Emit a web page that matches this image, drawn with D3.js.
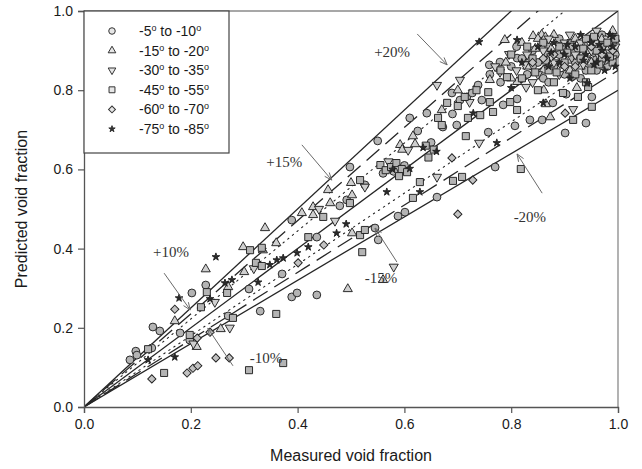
<!DOCTYPE html>
<html><head><meta charset="utf-8">
<script src="https://cdn.jsdelivr.net/npm/d3@7"></script>
<style>body{margin:0;background:#fff}</style>
</head><body>
<svg id="c" width="642" height="469"></svg>
<script>
// ---------- data ----------
const legendLabels = ["-5", "-10", "-15", "-20", "-30", "-35", "-45", "-55", "-60", "-70", "-75", "-85"];
const xTicks = [0, 0.2, 0.4, 0.6, 0.8, 1.0];
const yTicks = [0, 0.2, 0.4, 0.6, 0.8, 1.0];
const xTitle = "Measured void fraction";
const yTitle = "Predicted void fraction";
const bandPercents = [20, 15, 10];
const annotLabels = ["+20%", "+15%", "+10%", "-10%", "-15%", "-20%"];

const sCircle = [[0.086,0.119],[0.097,0.141],[0.099,0.131],[0.127,0.149],[0.129,0.202],[0.142,0.192],[0.180,0.187],[0.198,0.169],[0.202,0.288],[0.228,0.308],[0.270,0.230],[0.309,0.298],[0.330,0.242],[0.371,0.336],[0.389,0.278],[0.436,0.283],[0.399,0.288],[0.389,0.472],[0.436,0.429],[0.479,0.508],[0.492,0.523],[0.498,0.606],[0.526,0.561],[0.545,0.452],[0.551,0.422],[0.550,0.672],[0.560,0.590],[0.580,0.595],[0.588,0.482],[0.601,0.492],[0.600,0.610],[0.610,0.730],[0.625,0.697],[0.642,0.742],[0.650,0.668],[0.661,0.530],[0.672,0.707],[0.689,0.793],[0.698,0.712],[0.704,0.775],[0.717,0.783],[0.727,0.793],[0.738,0.813],[0.757,0.694],[0.759,0.864],[0.770,0.606],[0.779,0.871],[0.785,0.763],[0.807,0.710],[0.811,0.778],[0.811,0.881],[0.835,0.725],[0.858,0.725],[0.878,0.768],[0.901,0.692],[0.903,0.790],[0.940,0.717],[0.951,0.783],
 [0.80,0.86],[0.82,0.88],[0.83,0.84],[0.84,0.90],[0.85,0.87],[0.86,0.83],[0.87,0.91],[0.88,0.86],[0.89,0.89],[0.90,0.84],[0.91,0.92],[0.92,0.87],[0.93,0.90],[0.94,0.85],[0.95,0.93],[0.96,0.88],[0.97,0.91],[0.98,0.86],[0.99,0.92],[0.995,0.89],[0.76,0.84],[0.78,0.82],[0.87,0.82],[0.93,0.83],[0.97,0.94],[0.89,0.93],[0.84,0.86],[0.91,0.88],[0.96,0.85],[0.81,0.91],
 [0.865,0.895],[0.895,0.865],[0.925,0.905],[0.955,0.895],[0.985,0.905],[0.915,0.835],[0.945,0.875],[0.975,0.875],[0.835,0.875],[0.905,0.905],[0.690,0.740],[0.745,0.775]];

const sTriUp = [[0.170,0.217],[0.211,0.152],[0.228,0.348],[0.256,0.197],[0.270,0.303],[0.298,0.404],[0.300,0.341],[0.335,0.396],[0.339,0.452],[0.360,0.414],[0.408,0.490],[0.429,0.505],[0.429,0.485],[0.457,0.548],[0.461,0.515],[0.500,0.566],[0.502,0.535],[0.502,0.439],[0.494,0.298],[0.560,0.321],[0.592,0.662],[0.616,0.684],[0.620,0.664],[0.596,0.650],[0.670,0.750],[0.760,0.826],[0.788,0.927],[0.811,0.821],[0.841,0.937],[0.857,0.940],[0.864,0.934],[0.861,0.800],[0.873,0.732],[0.923,0.806],[0.865,0.765],
 [0.79,0.87],[0.82,0.92],[0.85,0.93],[0.87,0.88],[0.88,0.94],[0.90,0.90],[0.92,0.93],[0.94,0.91],[0.95,0.87],[0.97,0.93],[0.98,0.90],[0.99,0.95],[0.83,0.86],[0.86,0.85],[0.93,0.86],[0.96,0.92],[0.80,0.83],[0.91,0.85],
 [0.875,0.905],[0.935,0.895],[0.965,0.905],[0.995,0.93],[0.905,0.875],[0.845,0.905],[0.700,0.800]];

const sTriDown = [[0.205,0.160],[0.273,0.200],[0.245,0.265],[0.318,0.350],[0.440,0.500],[0.470,0.470],[0.526,0.556],[0.580,0.354],[0.570,0.620],[0.607,0.649],[0.661,0.581],[0.661,0.813],[0.704,0.826],[0.722,0.770],[0.740,0.667],[0.779,0.846],[0.796,0.891],[0.828,0.808],[0.916,0.752],
 [0.81,0.85],[0.83,0.89],[0.85,0.84],[0.86,0.90],[0.88,0.87],[0.89,0.84],[0.90,0.92],[0.92,0.89],[0.93,0.92],[0.94,0.88],[0.95,0.90],[0.97,0.87],[0.98,0.93],[0.99,0.88],[0.995,0.91],[0.77,0.86],[0.84,0.82],[0.91,0.94],[0.96,0.95],[0.87,0.93],
 [0.875,0.885],[0.935,0.865],[0.965,0.885],[0.985,0.895],[0.895,0.905],[0.825,0.865]];

const sSquare = [[0.120,0.146],[0.150,0.086],[0.198,0.182],[0.219,0.252],[0.230,0.290],[0.268,0.288],[0.279,0.225],[0.309,0.093],[0.311,0.396],[0.322,0.364],[0.333,0.356],[0.333,0.402],[0.360,0.235],[0.373,0.111],[0.420,0.429],[0.448,0.480],[0.498,0.515],[0.517,0.573],[0.517,0.434],[0.521,0.391],[0.526,0.447],[0.555,0.611],[0.565,0.598],[0.575,0.606],[0.585,0.616],[0.595,0.601],[0.605,0.593],[0.590,0.583],[0.616,0.528],[0.629,0.568],[0.640,0.660],[0.655,0.650],[0.645,0.630],[0.663,0.730],[0.670,0.712],[0.680,0.768],[0.691,0.571],[0.708,0.581],[0.715,0.684],[0.713,0.783],[0.719,0.730],[0.742,0.737],[0.757,0.795],[0.760,0.770],[0.766,0.745],[0.792,0.833],[0.798,0.770],[0.811,0.750],[0.818,0.601],[0.897,0.793],[0.916,0.725],[0.925,0.783],[0.944,0.808],[0.951,0.758],
 [0.78,0.85],[0.80,0.89],[0.82,0.83],[0.84,0.88],[0.86,0.92],[0.87,0.85],[0.89,0.91],[0.90,0.87],[0.92,0.84],[0.93,0.88],[0.94,0.93],[0.95,0.85],[0.96,0.90],[0.97,0.88],[0.98,0.92],[0.99,0.87],[0.995,0.93],[0.85,0.80],[0.88,0.82],[0.94,0.82],[0.91,0.91],[0.83,0.91],
 [0.865,0.875],[0.905,0.895],[0.935,0.905],[0.965,0.865],[0.985,0.885],[0.955,0.935],[0.885,0.845],[0.845,0.845],[0.700,0.760],[0.735,0.800]];

const sDiamond = [[0.127,0.071],[0.170,0.247],[0.193,0.086],[0.204,0.098],[0.213,0.104],[0.212,0.174],[0.236,0.189],[0.247,0.124],[0.272,0.124],[0.401,0.364],[0.449,0.409],[0.689,0.629],[0.700,0.487],[0.728,0.573],[0.901,0.742],
 [0.84,0.87],[0.88,0.89],[0.92,0.86],[0.95,0.91],[0.97,0.89],[0.90,0.86],[0.86,0.88],[0.99,0.90]];

const sStar = [[0.120,0.119],[0.170,0.126],[0.178,0.275],[0.236,0.273],[0.247,0.379],[0.264,0.313],[0.277,0.321],[0.326,0.315],[0.348,0.359],[0.361,0.371],[0.373,0.376],[0.399,0.389],[0.420,0.404],[0.473,0.439],[0.491,0.462],[0.567,0.543],[0.578,0.600],[0.610,0.602],[0.629,0.543],[0.635,0.655],[0.660,0.645],[0.729,0.742],[0.740,0.922],[0.773,0.667],[0.800,0.806],[0.811,0.927],[0.860,0.768],[0.942,0.818],
 [0.85,0.91],[0.88,0.92],[0.90,0.89],[0.92,0.91],[0.94,0.89],[0.95,0.92],[0.96,0.87],[0.97,0.90],[0.98,0.88],[0.985,0.94],[0.99,0.91],[0.995,0.86],[0.93,0.94],[0.87,0.86],[0.91,0.83],[0.975,0.85],[0.89,0.87],[0.82,0.87],
 [0.905,0.915],[0.935,0.875],[0.965,0.915],[0.99,0.935],[0.955,0.865],[0.875,0.895]];

// ---------- layout ----------
const svg = d3.select("#c");
const W = 642, H = 469;
const x = d3.scaleLinear().domain([0, 1]).range([84, 618]);
const y = d3.scaleLinear().domain([0, 1]).range([407, 11]);
const sans = "'Liberation Sans', Arial, sans-serif";
const serif = "'Liberation Serif', 'Times New Roman', serif";

svg.append("rect").attr("width", W).attr("height", H).attr("fill", "#fff");

svg.append("defs").append("clipPath").attr("id", "clip")
  .append("rect").attr("x", x(0)).attr("y", y(1)).attr("width", x(1) - x(0)).attr("height", y(0) - y(1));

// frame (top/right)
svg.append("path")
  .attr("d", `M${x(0)},${y(1)}H${x(1)}V${y(0)}`)
  .attr("fill", "none").attr("stroke", "#8a8a8a").attr("stroke-width", 1.3);

// reference lines
const refs = [{k: 1, dash: null, w: 1.3}];
bandPercents.forEach((p, i) => {
  const dash = i === 0 ? null : (i === 1 ? "17,8" : "1.4,4.6");
  const w = i === 2 ? 1.1 : 1.3;
  refs.push({k: 1 / (1 - p / 100), dash, w});
  refs.push({k: 1 - p / 100, dash, w});
});
const gl = svg.append("g").attr("clip-path", "url(#clip)");
refs.forEach(r => {
  gl.append("line")
    .attr("x1", x(0)).attr("y1", y(0))
    .attr("x2", x(1)).attr("y2", y(r.k))
    .attr("stroke", "#262626").attr("stroke-width", r.w)
    .attr("stroke-dasharray", r.dash)
    .attr("stroke-linecap", r.dash && r.dash.startsWith("1.4") ? "round" : "butt");
});

// axes
const ax = svg.append("g").attr("transform", `translate(0,${y(0)})`)
  .call(d3.axisBottom(x).tickValues(xTicks).tickFormat(d3.format(".1f")).tickSizeOuter(0).tickSize(6).tickPadding(6));
const ay = svg.append("g").attr("transform", `translate(${x(0)},0)`)
  .call(d3.axisLeft(y).tickValues(yTicks).tickFormat(d3.format(".1f")).tickSizeOuter(0).tickSize(6).tickPadding(5));
[ax, ay].forEach(g => {
  g.select(".domain").attr("stroke", "#555").attr("stroke-width", 1.3);
  g.selectAll(".tick line").attr("stroke", "#555").attr("stroke-width", 1.2);
  g.selectAll(".tick text").attr("font-family", sans).attr("font-size", 14).attr("fill", "#1a1a1a");
});

svg.append("text").attr("x", (x(0) + x(1)) / 2).attr("y", 461)
  .attr("text-anchor", "middle").attr("font-family", sans).attr("font-size", 16).attr("fill", "#1a1a1a")
  .text(xTitle);
svg.append("text").attr("transform", `translate(27,${(y(0) + y(1)) / 2}) rotate(-90)`)
  .attr("text-anchor", "middle").attr("font-family", sans).attr("font-size", 16).attr("fill", "#1a1a1a")
  .text(yTitle);

// symbols
const types = [
  {data: sCircle, type: d3.symbolCircle, size: 48, rot: 0, fill: "#b4b4b4"},
  {data: sTriUp, type: d3.symbolTriangle, size: 36, rot: 0, fill: "#cfcfcf"},
  {data: sTriDown, type: d3.symbolTriangle, size: 36, rot: 180, fill: "#cfcfcf"},
  {data: sSquare, type: d3.symbolSquare, size: 50, rot: 0, fill: "#b4b4b4"},
  {data: sDiamond, type: d3.symbolSquare, size: 34, rot: 45, fill: "#c2c2c2"},
  {data: sStar, type: d3.symbolStar, size: 18, rot: 0, fill: "#2a2a2a"}
];
const gp = svg.append("g");
types.forEach(t => {
  const gen = d3.symbol().type(t.type).size(t.size);
  gp.selectAll(null).data(t.data).enter().append("path")
    .attr("d", gen())
    .attr("transform", d => `translate(${x(d[0])},${y(d[1])}) rotate(${t.rot})`)
    .attr("fill", t.fill).attr("stroke", "#222").attr("stroke-width", 0.95);
});

// annotations (data coordinates)
const annot = [
  {t: [0.577, 0.896], a: [0.624, 0.942], b: [0.680, 0.864]},
  {t: [0.375, 0.619], a: [0.408, 0.662], b: [0.464, 0.573]},
  {t: [0.163, 0.391], a: [0.150, 0.338], b: [0.199, 0.245]},
  {t: [0.341, 0.124], a: [0.279, 0.104], b: [0.232, 0.199]},
  {t: [0.556, 0.326], a: [0.586, 0.366], b: [0.545, 0.452]},
  {t: [0.835, 0.480], a: [0.858, 0.540], b: [0.811, 0.639]}
];
const ga = svg.append("g");
annot.forEach((an, i) => {
  const x1 = x(an.a[0]), y1 = y(an.a[1]), x2 = x(an.b[0]), y2 = y(an.b[1]);
  ga.append("line").attr("x1", x1).attr("y1", y1).attr("x2", x2).attr("y2", y2)
    .attr("stroke", "#6a6a6a").attr("stroke-width", 1);
  const ang = Math.atan2(y2 - y1, x2 - x1), L = 8, sp = 0.38;
  const p1 = [x2 - L * Math.cos(ang - sp), y2 - L * Math.sin(ang - sp)];
  const p2 = [x2 - L * Math.cos(ang + sp), y2 - L * Math.sin(ang + sp)];
  ga.append("path").attr("d", `M${p1}L${x2},${y2}L${p2}`)
    .attr("fill", "none").attr("stroke", "#6a6a6a").attr("stroke-width", 1);
  ga.append("text").attr("x", x(an.t[0])).attr("y", y(an.t[1])).attr("dy", "0.35em")
    .attr("text-anchor", "middle").attr("font-family", serif).attr("font-size", 15).attr("fill", "#333")
    .text(annotLabels[i]);
});

// legend
const lg = svg.append("g");
lg.append("rect").attr("x", 84).attr("y", 11).attr("width", 145).attr("height", 142)
  .attr("fill", "#fff").attr("stroke", "#444").attr("stroke-width", 1.2);
types.forEach((t, i) => {
  const cy = 31 + i * 19.6;
  const gen = d3.symbol().type(t.type).size(t.size * 0.7);
  lg.append("path").attr("d", gen())
    .attr("transform", `translate(112,${cy}) rotate(${t.rot})`)
    .attr("fill", i === 5 ? "#333" : "#e6e6e6").attr("stroke", "#333").attr("stroke-width", 1);
  const tx = lg.append("text").attr("x", 139).attr("y", cy).attr("dy", "0.36em")
    .attr("font-family", sans).attr("font-size", 14).attr("fill", "#1a1a1a");
  tx.append("tspan").text(legendLabels[2 * i]);
  tx.append("tspan").attr("font-size", 9).attr("dy", "-0.55em").text("o");
  tx.append("tspan").attr("dy", "0.35em").text(" to " + legendLabels[2 * i + 1]);
  tx.append("tspan").attr("font-size", 9).attr("dy", "-0.55em").text("o");
});
</script>
</body></html>
